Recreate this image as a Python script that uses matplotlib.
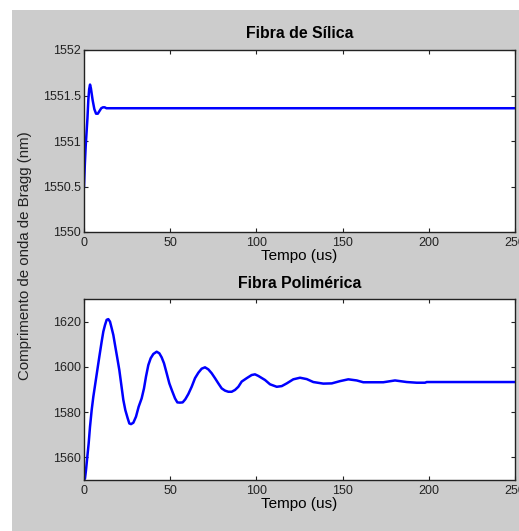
import matplotlib
matplotlib.use("Agg")
import matplotlib.pyplot as plt
from matplotlib.patches import Rectangle

plt.rcParams['font.family'] = ['Liberation Sans', 'DejaVu Sans']

# Silica fibre response
t_silica = [0, 0.5, 1, 1.5, 2, 2.5, 3, 3.5, 4, 5, 6, 7, 8, 9, 10, 11, 12, 13, 15, 250]
y_silica = [1550.5, 1550.75, 1550.95, 1551.1, 1551.25, 1551.45, 1551.57, 1551.62, 1551.58,
            1551.45, 1551.35, 1551.30, 1551.30, 1551.33, 1551.36, 1551.37, 1551.37, 1551.36,
            1551.36, 1551.36]

# Polymer fibre response
t_poly = [0, 0.58, 1.16, 1.93, 2.71, 3.48, 4.45, 5.41, 6.57, 7.73, 8.89, 10.25, 11.21, 12.18,
          13.15, 14.11, 15.08, 16.05, 17.01, 18.17, 19.33, 20.49, 21.65, 22.81, 23.97, 25.33,
          26.29, 27.26, 28.61, 30.16, 31.71, 33.45, 34.8, 35.96, 37.31, 38.67, 40.22, 42.15,
          43.7, 45.05, 46.4, 47.95, 49.5, 51.04, 52.78, 54.14, 55.68, 57.23, 58.78, 60.52,
          62.45, 64.39, 66.32, 68.25, 70.19, 72.12, 74.05, 75.99, 77.92, 79.85, 81.79, 83.72,
          85.65, 87.59, 89.52, 91.46, 94.36, 97.26, 99.19, 101.12, 105.0, 107.9, 111.8, 114.7,
          117.6, 121.4, 125.3, 129.2, 133.0, 138.8, 143.7, 148.5, 153.3, 158.2, 162.0, 173.6,
          180.4, 187.2, 193.0, 197.8, 198.8, 250]
y_poly = [1550.0, 1550.7, 1554.4, 1560.3, 1566.2, 1573.5, 1580.9, 1586.8, 1592.7, 1598.6,
          1604.5, 1611.2, 1615.6, 1618.5, 1620.8, 1621.1, 1620.0, 1617.1, 1614.1, 1608.9,
          1603.8, 1598.6, 1592.0, 1585.4, 1580.9, 1577.3, 1575.0, 1574.7, 1575.3, 1578.0,
          1582.4, 1586.1, 1590.5, 1595.7, 1600.8, 1603.8, 1605.7, 1606.7, 1606.0, 1604.2,
          1601.6, 1597.2, 1592.7, 1589.5, 1586.1, 1584.3, 1584.2, 1584.3, 1585.7, 1588.0,
          1591.2, 1595.0, 1597.4, 1599.2, 1599.8, 1598.9, 1597.2, 1595.0, 1592.7, 1590.5,
          1589.5, 1589.0, 1589.0, 1589.8, 1591.2, 1593.5, 1595.0, 1596.4, 1596.7, 1596.0,
          1594.2, 1592.3, 1591.2, 1591.5, 1592.7, 1594.5, 1595.2, 1594.6, 1593.3, 1592.6,
          1592.7, 1593.7, 1594.5, 1594.0, 1593.2, 1593.2, 1594.0, 1593.3, 1593.0, 1593.0,
          1593.3, 1593.3]

x_ticks = [0, 50, 100, 150, 200, 250]
y_ticks_silica = [1550, 1550.5, 1551, 1551.5, 1552]
y_ticks_poly = [1560, 1580, 1600, 1620]

W, H = 519, 531
fig = plt.figure(figsize=(W / 100, H / 100), dpi=100)
fig.patch.set_facecolor('white')
fig.patches.append(Rectangle((12 / W, 0), 1 - 12 / W, (H - 10) / H,
                             transform=fig.transFigure, facecolor='#cccccc',
                             edgecolor='none', zorder=-10))

ax1 = fig.add_axes([84 / W, (H - 232) / H, 431 / W, 182 / H])
ax2 = fig.add_axes([84 / W, (H - 480) / H, 431 / W, 181 / H])

def style(ax):
    ax.set_facecolor('white')
    for s in ax.spines.values():
        s.set_color('#222222')
        s.set_linewidth(1.0)
    ax.tick_params(direction='in', length=3.2, width=0.8, top=True, right=True,
                   labelsize=9, colors='#222222')
    ax.tick_params(axis='x', pad=3.6)
    ax.tick_params(axis='y', pad=2.2)
    ax.set_xlim(0, 250)
    ax.set_xticks(x_ticks)
    ax.set_xticklabels([str(v) for v in x_ticks])

ax1.plot(t_silica, y_silica, color='#0000ff', lw=1.8)
style(ax1)
ax1.set_ylim(1550, 1552)
ax1.set_yticks(y_ticks_silica)
ax1.set_yticklabels(['1550', '1550.5', '1551', '1551.5', '1552'])
ax1.set_title('Fibra de Sílica', fontsize=11.4, fontweight='bold', pad=8.6)
ax1.set_xlabel('Tempo (us)', fontsize=11, labelpad=0)

ax2.plot(t_poly, y_poly, color='#0000ff', lw=1.8)
style(ax2)
ax2.set_ylim(1550, 1630)
ax2.set_yticks(y_ticks_poly)
ax2.set_title('Fibra Polimérica', fontsize=11.4, fontweight='bold', pad=8)
ax2.set_xlabel('Tempo (us)', fontsize=11, labelpad=0)

fig.text(25 / W, 1 - 256 / H, 'Comprimento de onda de Bragg (nm)', rotation=90,
         ha='center', va='center', fontsize=10.8, color='#222222')

fig.savefig('out.png', dpi=100)
